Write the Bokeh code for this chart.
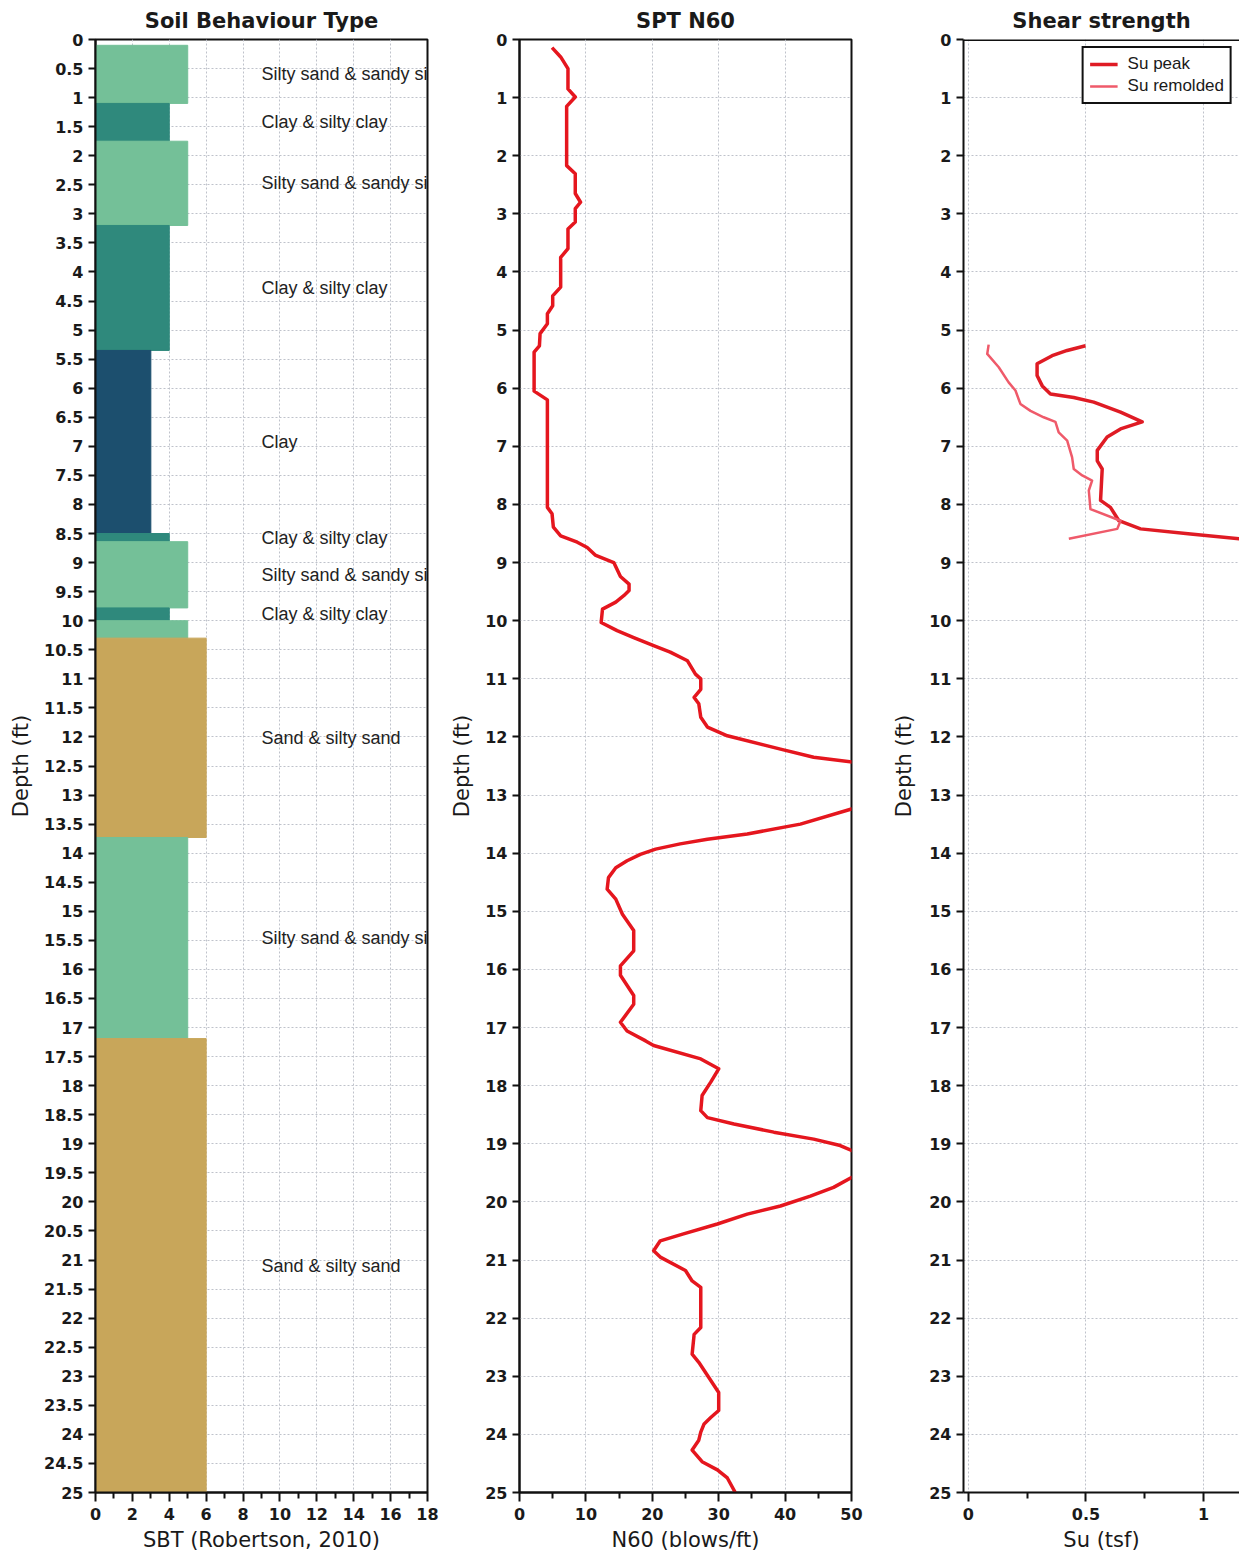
from bokeh.plotting import figure
from bokeh.models import Range1d, FixedTicker, NumeralTickFormatter, Span, ColumnDataSource, LabelSet
from bokeh.layouts import row
from bokeh.embed import file_html
from bokeh.resources import INLINE
from bokeh.core.properties import value

# ---------------- data ----------------
# Soil behaviour type layers (depth ft)
layer_top = [0.1, 1.1, 1.75, 3.2, 5.35, 8.5, 8.64, 9.78, 10.0, 10.3, 13.73, 17.19]
layer_bottom = [1.1, 1.75, 3.2, 5.35, 8.5, 8.64, 9.78, 10.0, 10.3, 13.73, 17.19, 25.0]
layer_sbt = [5, 4, 5, 4, 3, 4, 5, 4, 5, 6, 5, 6]
layer_label = ["Silty sand & sandy silt", "Clay & silty clay", "Silty sand & sandy silt",
               "Clay & silty clay", "Clay", "Clay & silty clay", "Silty sand & sandy silt",
               "Clay & silty clay", "", "Sand & silty sand", "Silty sand & sandy silt",
               "Sand & silty sand"]
sbt_colors = {3: "#1c4f6e", 4: "#2f897c", 5: "#74c098", 6: "#c8a65a"}

# SPT N60 profile
n60_depth = [0.14, 0.30, 0.5, 0.85, 0.99, 1.15, 2.17, 2.31, 2.65, 2.8, 2.91, 3.14, 3.26, 3.6,
             3.75, 4.26, 4.41, 4.58, 4.72, 4.89, 5.06, 5.27, 5.38, 6.05, 6.2, 7.93, 8.05,
             8.16, 8.39, 8.54, 8.65, 8.74, 8.87, 9.0, 9.24, 9.37, 9.48, 9.57, 9.68, 9.8,
             10.03, 10.17, 10.29, 10.43, 10.54, 10.69, 10.92, 11.0, 11.18, 11.32, 11.43,
             11.66, 11.83, 11.98, 12.21, 12.35, 12.43, 12.8, 13.24, 13.5, 13.67, 13.76,
             13.84, 13.93, 14.02, 14.13, 14.25, 14.42, 14.62, 14.79, 15.05, 15.33, 15.68,
             15.94, 16.1, 16.45, 16.6, 16.91, 17.06, 17.23, 17.31, 17.54, 17.71, 17.94,
             18.17, 18.43, 18.55, 18.66, 18.8, 18.92, 19.03, 19.12, 19.35, 19.58, 19.75,
             19.9, 20.07, 20.21, 20.38, 20.55, 20.67, 20.84, 20.95, 21.18, 21.36, 21.47,
             22.16, 22.28, 22.62, 22.76, 23.28, 23.59, 23.71, 23.82, 23.96, 24.1, 24.27,
             24.47, 24.61, 24.75, 25.0]
n60_value = [4.9, 6.2, 7.3, 7.3, 8.4, 7.1, 7.1, 8.4, 8.4, 9.2, 8.4, 8.4, 7.3, 7.3,
             6.2, 6.2, 5.0, 5.0, 4.2, 4.2, 3.1, 3.0, 2.2, 2.2, 4.2, 4.2, 4.2,
             4.9, 5.1, 6.2, 8.7, 10.2, 11.4, 14.2, 15.2, 16.5, 16.5, 15.7, 14.5, 12.5,
             12.3, 14.7, 17.2, 20.2, 22.7, 25.3, 26.5, 27.3, 27.3, 26.3, 27.0,
             27.3, 28.3, 31.3, 39.3, 44.3, 50.1, 70.0, 50.0, 42.3, 34.3, 28.3,
             24.2, 20.5, 18.2, 16.2, 14.5, 13.4, 13.2, 14.5, 15.5, 17.2, 17.2,
             15.2, 15.2, 17.2, 17.2, 15.2, 16.2, 19.0, 20.2, 27.3, 30.0, 28.8,
             27.5, 27.3, 28.3, 32.3, 38.3, 44.3, 48.3, 50.1, 58.0, 50.0, 47.3,
             43.8, 39.3, 34.3, 29.8, 24.7, 21.2, 20.2, 21.2, 25.0, 26.0, 27.3,
             27.3, 26.3, 26.0, 27.0, 30.0, 30.0, 28.8, 27.8, 27.3, 27.0, 26.0,
             27.5, 29.8, 31.3, 32.5]

# Undrained shear strength (tsf)
su_peak_depth = [5.27, 5.35, 5.44, 5.58, 5.78, 5.96, 6.1, 6.16, 6.24, 6.41, 6.58, 6.7, 6.84,
                 7.07, 7.25, 7.39, 7.93, 8.05, 8.28, 8.42, 8.51, 8.59, 8.63]
su_peak = [0.498, 0.42, 0.356, 0.292, 0.292, 0.314, 0.349, 0.448, 0.533, 0.647, 0.739, 0.647,
           0.59, 0.548, 0.548, 0.569, 0.562, 0.604, 0.64, 0.732, 0.945, 1.153, 1.30]
su_rem_depth = [5.25, 5.41, 5.64, 5.9, 6.04, 6.27, 6.39, 6.5, 6.58, 6.76, 6.9, 7.19, 7.39,
                7.5, 7.59, 7.76, 8.08, 8.28, 8.42, 8.59]
su_rem = [0.086, 0.08, 0.129, 0.171, 0.2, 0.221, 0.264, 0.32, 0.37, 0.384, 0.42, 0.441, 0.448,
          0.484, 0.526, 0.512, 0.519, 0.647, 0.633, 0.427]

# tick positions
sbt_ticks = [0, 2, 4, 6, 8, 10, 12, 14, 16, 18]
sbt_minor = [1, 3, 5, 7, 9, 11, 13, 15, 17]
n60_ticks = [0, 10, 20, 30, 40, 50]
n60_minor = [5, 15, 25, 35, 45]
su_ticks = [0, 0.5, 1]
su_minor = [0.25, 0.75]
depth_half_ticks = [i * 0.5 for i in range(51)]
depth_ticks = list(range(26))

# ---------------- styling helpers ----------------
H = 1555
FONT = "DejaVu Sans"
GRID_COLOR = "#bfc2cb"


def make_fig(title, width, left, right, x_range, xticks, xminor, yticks, xlabel, ylabel_standoff,
             fmt="0.[0]"):
    p = figure(width=width, height=H, x_range=x_range, y_range=Range1d(25, 0),
               output_backend="svg", toolbar_location=None,
               min_border_left=left, min_border_right=right,
               min_border_top=39, min_border_bottom=63, title=title)
    p.title.align = "center"
    p.title.text_font = FONT
    p.title.text_font_size = "21px"
    p.title.text_font_style = "bold"
    p.title.text_color = "#1a1a1a"
    p.title.standoff = 13
    p.outline_line_color = "#111111"
    p.outline_line_width = 2
    p.background_fill_color = "white"
    p.border_fill_color = "white"

    for ax in (p.xaxis[0], p.yaxis[0]):
        ax.axis_line_color = "#111111"
        ax.axis_line_width = 2
        ax.major_tick_line_color = "#111111"
        ax.major_tick_line_width = 2
        ax.minor_tick_line_color = "#111111"
        ax.minor_tick_line_width = 2
        ax.major_tick_in = 0
        ax.minor_tick_in = 0
        ax.major_label_text_font = FONT
        ax.major_label_text_font_size = "16px"
        ax.major_label_text_font_style = "bold"
        ax.major_label_text_color = "#1a1a1a"
        ax.axis_label_text_font = FONT
        ax.axis_label_text_font_size = "21px"
        ax.axis_label_text_font_style = "normal"
        ax.axis_label_text_color = "#1a1a1a"

    xa = p.xaxis[0]
    xa.ticker = FixedTicker(ticks=xticks, minor_ticks=xminor)
    xa.formatter = NumeralTickFormatter(format=fmt)
    xa.major_tick_out = 9
    xa.minor_tick_out = 6
    xa.major_label_standoff = 6
    xa.axis_label = xlabel
    xa.axis_label_standoff = 5

    ya = p.yaxis[0]
    ya.ticker = FixedTicker(ticks=yticks)
    ya.formatter = NumeralTickFormatter(format="0.[0]")
    ya.major_tick_out = 7
    ya.minor_tick_out = 0
    ya.major_label_standoff = 5
    ya.axis_label = "Depth (ft)"
    ya.axis_label_standoff = ylabel_standoff

    for g in (p.xgrid[0], p.ygrid[0]):
        g.grid_line_color = GRID_COLOR
        g.grid_line_dash = "2 2"
        g.grid_line_width = 1
    return p


# ---------------- panel 1: SBT ----------------
p1 = make_fig("Soil Behaviour Type", 445, 95, 18, Range1d(0, 18), sbt_ticks, sbt_minor,
              depth_half_ticks, "SBT (Robertson, 2010)", 8)

src1 = ColumnDataSource(dict(
    top=layer_top, bottom=layer_bottom, right=layer_sbt,
    left=[0] * len(layer_sbt),
    color=[sbt_colors[s] for s in layer_sbt],
))
p1.quad(left="left", right="right", top="top", bottom="bottom", source=src1,
        fill_color="color", line_color="color", line_width=1, line_alpha=1.0)

lab_y = [(t + b) / 2 for t, b, l in zip(layer_top, layer_bottom, layer_label) if l]
lab_t = [l for l in layer_label if l]
lab_src = ColumnDataSource(dict(x=[9] * len(lab_t), y=lab_y, text=lab_t))
p1.add_layout(LabelSet(x="x", y="y", text="text", source=lab_src, text_baseline="middle",
                       text_font=value("Liberation Sans"), text_font_size="18px",
                       text_color="#222222"))

# ---------------- panel 2: SPT N60 ----------------
p2 = make_fig("SPT N60", 435, 74, 29, Range1d(0, 50), n60_ticks, n60_minor,
              depth_ticks, "N60 (blows/ft)", 8)
p2.line(n60_value, n60_depth, line_color="#e5161e", line_width=3.5, line_join="round")

# ---------------- panel 3: Shear strength ----------------
p3 = make_fig("Shear strength", 359, 83, 0, Range1d(-0.021, 1.153), su_ticks, su_minor,
              depth_ticks, "Su (tsf)", 10)
p3.outline_line_color = None
p3.add_layout(Span(location=0, dimension="width", line_color="#111111", line_width=3))
p3.line(su_peak, su_peak_depth, line_color="#df1b24", line_width=3.5, line_join="round",
        legend_label="Su peak")
p3.line(su_rem, su_rem_depth, line_color="#ef5a6a", line_width=2.5, line_join="round",
        legend_label="Su remolded")
lg = p3.legend[0]
lg.location = "top_right"
lg.border_line_color = "#111111"
lg.border_line_width = 2
lg.border_line_alpha = 1.0
lg.background_fill_alpha = 1.0
lg.label_text_font = "Liberation Sans"
lg.label_text_font_size = "17px"
lg.label_text_color = "#1a1a1a"
lg.glyph_width = 28
lg.glyph_height = 18
lg.label_height = 18
lg.spacing = 2
lg.padding = 6
lg.margin = 7
lg.label_standoff = 10

layout = row(p1, p2, p3)
open("out.html", "w").write(file_html(layout, INLINE))
